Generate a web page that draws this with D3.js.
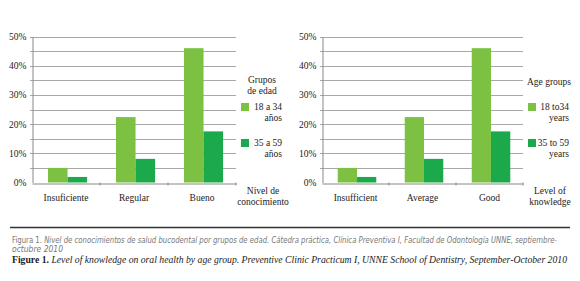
<!DOCTYPE html>
<html>
<head>
<meta charset="utf-8">
<script src="https://cdn.jsdelivr.net/npm/d3@7"></script>
<style>
  body { margin: 0; background: #fff; }
  svg text { font-family: "Liberation Serif", serif; fill: #222; }
  svg .caption-es { font-family: "Liberation Sans Narrow", "DejaVu Sans Condensed", sans-serif; fill: #777; }
</style>
</head>
<body>
<div id="chart"></div>
<script>
// chart data
var categoriesEs = ["Insuficiente", "Regular", "Bueno"];
var categoriesEn = ["Insufficient", "Average", "Good"];
var group1 = [5, 22.4, 46];      // 18 a 34 años
var group2 = [1.9, 8.1, 17.5];   // 35 a 59 años
var yTicks = [0, 10, 20, 30, 40, 50];
var gridTicks = [5, 10, 15, 20, 25, 30, 35, 40, 45, 50];

var colors = ["#7cc142", "#1ba94c"];

var svg = d3.select("#chart").append("svg")
    .attr("width", 580)
    .attr("height", 281);

var y = d3.scaleLinear()
    .domain([0, 50])
    .range([182.5, 36.5]);

function drawPanel(left, right, cats, legendTitle, legendLabels, axisTitle) {
    var g = svg.append("g");

    var x0 = d3.scaleBand()
        .domain(cats)
        .range([left, right]);

    var bw = x0.bandwidth();
    var x1 = d3.scaleBand()
        .domain([0, 1])
        .range([bw * 0.235, bw * 0.81]);

    // grid lines
    g.selectAll(".grid")
        .data(gridTicks)
        .enter()
        .append("line")
        .attr("x1", left - 2)
        .attr("x2", right)
        .attr("y1", function (d) { return Math.round(y(d)) + 0.5; })
        .attr("y2", function (d) { return Math.round(y(d)) + 0.5; })
        .attr("stroke", "#a8a8a8")
        .attr("stroke-width", 1);

    // bars
    var rows = cats.map(function (c, i) {
        return {cat: c, values: [group1[i], group2[i]]};
    });

    var groups = g.selectAll(".cat")
        .data(rows)
        .enter()
        .append("g")
        .attr("transform", function (d) { return "translate(" + x0(d.cat) + ",0)"; });

    groups.selectAll("rect")
        .data(function (d) { return d.values; })
        .enter()
        .append("rect")
        .attr("x", function (d, i) { return x1(i); })
        .attr("width", x1.bandwidth())
        .attr("y", function (d) { return y(d); })
        .attr("height", function (d) { return y(0) - y(d); })
        .attr("fill", function (d, i) { return colors[i]; });

    // y axis
    var yAxis = d3.axisLeft(y)
        .tickValues(yTicks)
        .tickSize(0)
        .tickPadding(6)
        .tickFormat(function (d) { return d + "%"; });

    var ya = g.append("g")
        .attr("transform", "translate(" + (left + 0.5) + ",0)")
        .call(yAxis)
        .attr("font-family", null)
        .attr("font-size", 9.5);
    ya.select(".domain").attr("stroke", "#888");
    ya.selectAll("text").attr("fill", "#222");

    // x axis
    var xAxis = d3.axisBottom(x0)
        .tickSize(0)
        .tickPadding(11);

    var xa = g.append("g")
        .attr("transform", "translate(0," + (Math.round(y(0)) + 0.5) + ")")
        .call(xAxis)
        .attr("font-family", null)
        .attr("font-size", 9.5);
    xa.select(".domain").attr("stroke", "#888");
    xa.selectAll("text").attr("fill", "#222");

    // tick marks between categories
    g.selectAll(".xtick")
        .data(cats.slice(1).concat(["end"]))
        .enter()
        .append("line")
        .attr("x1", function (d) { return d === "end" ? right : x0(d); })
        .attr("x2", function (d) { return d === "end" ? right : x0(d); })
        .attr("y1", y(0))
        .attr("y2", y(0) + 3)
        .attr("stroke", "#888");

    // legend
    var lx = right + 2;
    var title = g.append("text")
        .attr("font-size", 9.5)
        .attr("text-anchor", "middle");
    legendTitle.forEach(function (t, i) {
        title.append("tspan")
            .attr("x", lx + 24)
            .attr("y", (legendTitle.length === 1 ? 85 : 83) + i * 11)
            .text(t);
    });

    legendLabels.forEach(function (lab, i) {
        var top = 103 + i * 36;
        g.append("rect")
            .attr("x", lx + 3)
            .attr("y", top)
            .attr("width", 8)
            .attr("height", 8)
            .attr("fill", colors[i]);
        var t = g.append("text")
            .attr("font-size", 9.5)
            .attr("text-anchor", "end");
        lab.forEach(function (line, j) {
            t.append("tspan")
                .attr("x", lx + 44)
                .attr("y", top + 7 + j * 11)
                .text(line);
        });
    });

    // axis title
    var at = g.append("text")
        .attr("font-size", 9.5)
        .attr("text-anchor", "middle");
    axisTitle.forEach(function (line, j) {
        at.append("tspan")
            .attr("x", right + 27)
            .attr("y", 194 + j * 11)
            .text(line);
    });
}

drawPanel(32, 236, categoriesEs, ["Grupos", "de edad"],
    [["18 a 34", "años"], ["35 a 59", "años"]], ["Nivel de", "conocimiento"]);

drawPanel(322, 523, categoriesEn, ["Age groups"],
    [["18 to34", "years"], ["35 to 59", "years"]], ["Level of", "knowledge"]);

// separator
svg.append("line")
    .attr("x1", 10)
    .attr("x2", 570)
    .attr("y1", 227.5)
    .attr("y2", 227.5)
    .attr("stroke", "#333")
    .attr("stroke-width", 1.3);

// captions
var c1 = svg.append("text")
    .attr("class", "caption-es")
    .attr("x", 12)
    .attr("y", 243)
    .attr("font-size", 8)
    .attr("textLength", 545)
    .attr("lengthAdjust", "spacingAndGlyphs");
c1.append("tspan").text("Figura 1. ");
c1.append("tspan").attr("font-style", "italic")
    .text("Nivel de conocimientos de salud bucodental por grupos de edad. Cátedra práctica, Clínica Preventiva I, Facultad de Odontología UNNE, septiembre-");

svg.append("text")
    .attr("class", "caption-es")
    .attr("x", 12)
    .attr("y", 252)
    .attr("font-size", 8)
    .attr("font-style", "italic")
    .attr("textLength", 51)
    .attr("lengthAdjust", "spacingAndGlyphs")
    .text("octubre 2010");

var c2 = svg.append("text")
    .attr("x", 12)
    .attr("y", 262.5)
    .attr("font-size", 9.5)
    .attr("textLength", 555)
    .attr("lengthAdjust", "spacingAndGlyphs");
c2.append("tspan").attr("font-weight", "bold").text("Figure 1. ");
c2.append("tspan").attr("font-style", "italic")
    .text("Level of knowledge on oral health by age group. Preventive Clinic Practicum I, UNNE School of Dentistry, September-October 2010");
</script>
</body>
</html>
